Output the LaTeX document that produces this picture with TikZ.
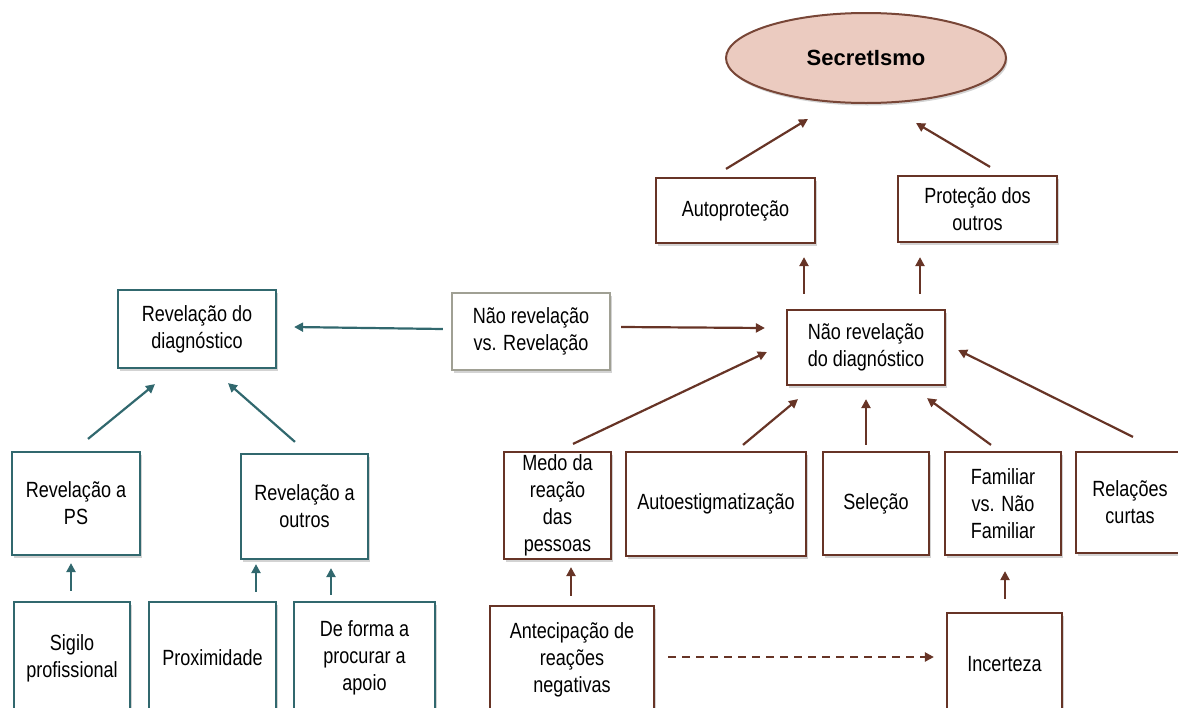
\documentclass[tikz,border=0pt]{standalone}
\usepackage{fontspec}
\setmainfont{Liberation Sans}[FakeStretch=0.82]
\newfontfamily\titlefont{Liberation Sans}
\usetikzlibrary{shapes.geometric,arrows.meta,shadows,calc}
\definecolor{tealc}{RGB}{49,104,110}
\definecolor{brownc}{RGB}{103,52,38}
\definecolor{ellfill}{RGB}{235,203,192}
\definecolor{ellbord}{RGB}{120,70,55}
\definecolor{greyb}{RGB}{160,160,148}
\begin{document}
\begin{tikzpicture}[x=1pt,y=-1pt,
  box/.style={draw, line width=2.2pt, fill=white, inner sep=0pt, align=center,
    font=\fontsize{22}{27}\selectfont,
    drop shadow={shadow xshift=1.5pt, shadow yshift=-2.5pt, opacity=0.35}},
  tbox/.style={box, draw=tealc},
  bbox/.style={box, draw=brownc},
  gbox/.style={box, draw=greyb},
  tarr/.style={draw=tealc, line width=2.2pt, -{Triangle[length=9pt,width=9pt]}},
  barr/.style={draw=brownc, line width=2.2pt, -{Triangle[length=9pt,width=9pt]}},
  darr/.style={barr, dash pattern=on 8pt off 6pt}]
\useasboundingbox (0,0) rectangle (1178,707);

% ellipse
\node[ellipse, draw=ellbord, fill=ellfill, line width=2pt, minimum width=280pt,
  minimum height=90pt, inner sep=0pt,
  drop shadow={shadow xshift=1.5pt, shadow yshift=-2.5pt, opacity=0.35},
  font=\titlefont\bfseries\fontsize{22}{25}\selectfont] (ell) at (866,58) {SecretIsmo};

% brown boxes
\node[bbox, minimum width=159pt, minimum height=65pt] (auto) at (735.5,210.5) {Autoproteção};
\node[bbox, minimum width=159pt, minimum height=66pt] (prot) at (977.5,209) {Proteção dos\\outros};
\node[bbox, minimum width=158pt, minimum height=75pt] (nrd) at (866,347.5) {Não revelação\\do diagnóstico};
\node[gbox, minimum width=158pt, minimum height=77pt] (nrvr) at (531,331.5) {Não revelação\\vs. Revelação};

\node[bbox, minimum width=107pt, minimum height=107pt] (medo) at (557.5,505.5) {Medo da\\reação\\das\\pessoas};
\node[bbox, minimum width=180pt, minimum height=104pt] (ae) at (716,504) {Autoestigmatização};
\node[bbox, minimum width=106pt, minimum height=103pt] (sel) at (876,503.5) {Seleção};
\node[bbox, minimum width=116pt, minimum height=103pt] (fam) at (1003,503.5) {Familiar\\vs. Não\\Familiar};
\node[bbox, minimum width=108pt, minimum height=101pt] (rel) at (1130,502.5) {Relações\\curtas};
\node[bbox, minimum width=164pt, minimum height=108pt] (ant) at (572,660) {Antecipação de\\reações\\negativas};
\node[bbox, minimum width=115pt, minimum height=102pt] (inc) at (1004.5,664) {Incerteza};

% teal boxes
\node[tbox, minimum width=158pt, minimum height=78pt] (rd) at (197,329) {Revelação do\\diagnóstico};
\node[tbox, minimum width=128pt, minimum height=103pt] (rps) at (76,503.5) {Revelação a\\PS};
\node[tbox, minimum width=127pt, minimum height=105pt] (ro) at (304.5,506.5) {Revelação a\\outros};
\node[tbox, minimum width=116pt, minimum height=112pt] (sig) at (72,658) {Sigilo\\profissional};
\node[tbox, minimum width=127pt, minimum height=112pt] (prox) at (212.5,658) {Proximidade};
\node[tbox, minimum width=141pt, minimum height=112pt] (dfa) at (364.5,658) {De forma a\\procurar a\\apoio};

% brown connectors
\draw[barr] ($(auto.north)+(-9.5,-8)$) -- ($(ell.south)+(-58,15)$);
\draw[barr] ($(prot.north)+(12.5,-8)$) -- ($(ell.south)+(50,19)$);
\draw[barr] ($(nrd.north)+(-62,-15)$) -- ($(auto.south)+(68.5,13)$);
\draw[barr] ($(nrd.north)+(54,-15)$) -- ($(prot.south)+(-57.5,14)$);
\draw[barr] ($(nrvr.east)+(10,-4.5)$) -- ($(nrd.west)+(-21,-19.5)$);
\draw[barr] ($(medo.north)+(15.5,-7)$) -- ($(nrd.west)+(-19,4.5)$);
\draw[barr] ($(ae.north)+(27,-6)$) -- ($(nrd.south)+(-68,13)$);
\draw[barr] ($(sel.north)+(-10,-6)$) -- ($(nrd.south)+(0,13)$);
\draw[barr] ($(fam.north)+(-12,-6)$) -- ($(nrd.south)+(61,12)$);
\draw[barr] ($(rel.north)+(3,-14)$) -- ($(nrd.east)+(12,2.5)$);
\draw[barr] ($(ant.north)+(-1,-9)$) -- ($(medo.south)+(13.5,7)$);
\draw[barr] ($(inc.north)+(0.5,-13)$) -- ($(fam.south)+(2,15)$);
\draw[darr] ($(ant.east)+(13,-3)$) -- ($(inc.west)+(-12,-7)$);

% teal connectors
\draw[tarr] ($(nrvr.west)+(-8,-2.5)$) -- ($(rd.east)+(17,-2)$);
\draw[tarr] ($(rps.north)+(12,-12)$) -- ($(rd.south)+(-42,15)$);
\draw[tarr] ($(ro.north)+(-9.5,-11)$) -- ($(rd.south)+(31,14)$);
\draw[tarr] ($(sig.north)+(-1,-10)$) -- ($(rps.south)+(-5,7)$);
\draw[tarr] ($(prox.north)+(43.5,-9)$) -- ($(ro.south)+(-48.5,4)$);
\draw[tarr] ($(dfa.north)+(-33.5,-6)$) -- ($(ro.south)+(26.5,8)$);
\end{tikzpicture}
\end{document}
